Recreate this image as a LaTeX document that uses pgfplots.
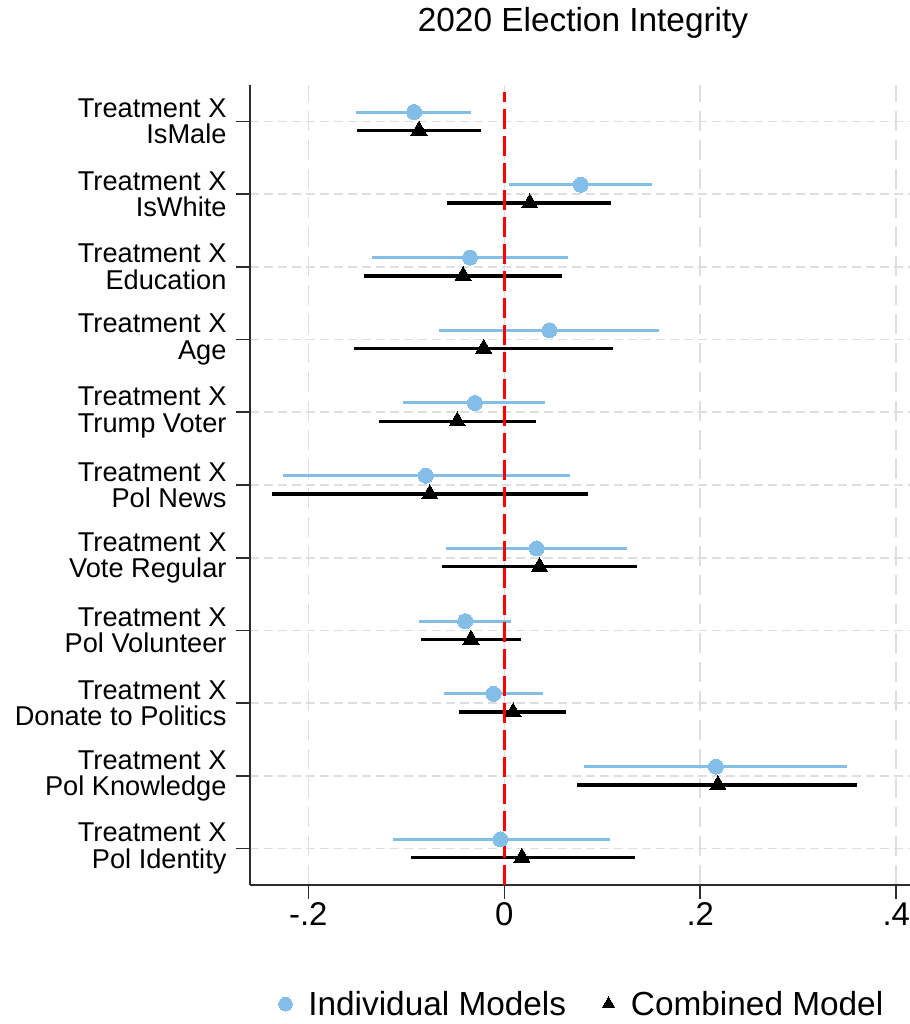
\documentclass[border=0pt]{standalone}
\usepackage{pgfplots}
\pgfplotsset{compat=1.18}
\usepackage{pgfplotstable}
\usepackage{fontspec}
\setmainfont{Liberation Sans}
\definecolor{cblue}{RGB}{130,190,232}
\definecolor{gridc}{RGB}{222,222,222}
\definecolor{axc}{RGB}{45,45,45}

% row 1 = top
\pgfplotstableread{
row x lo hi
1 -0.092 -0.151 -0.034
2 0.078 0.005 0.151
3 -0.035 -0.135 0.065
4 0.046 -0.067 0.158
5 -0.030 -0.103 0.042
6 -0.080 -0.226 0.067
7 0.033 -0.059 0.125
8 -0.040 -0.087 0.007
9 -0.011 -0.062 0.040
10 0.216 0.081 0.350
11 -0.004 -0.114 0.108
}\indiv

\pgfplotstableread{
row x lo hi
1 -0.087 -0.150 -0.024
2 0.026 -0.058 0.109
3 -0.042 -0.143 0.059
4 -0.021 -0.153 0.111
5 -0.048 -0.128 0.032
6 -0.076 -0.237 0.085
7 0.036 -0.064 0.135
8 -0.034 -0.085 0.017
9 0.009 -0.046 0.063
10 0.218 0.074 0.360
11 0.018 -0.095 0.133
}\comb

\begin{document}
\begin{tikzpicture}
\path[use as bounding box] (0,0) rectangle (910bp,1024bp);
\begin{axis}[
  at={(250bp,139bp)}, anchor=south west,
  scale only axis, width=660bp, height=800bp,
  xmin=-0.2595, xmax=0.414, ymin=0.5, ymax=11.5,
  axis x line*=bottom, axis y line*=left,
  axis line style={-, draw=axc, line width=1.6bp},
  xtick={-0.2,0,0.2,0.4}, xticklabels={-.2,0,.2,.4},
  ytick={1,2,3,4,5,6,7,8,9,10,11},
  yticklabels={{Treatment X\\Pol Identity},{Treatment X\\Pol Knowledge},{Treatment X\\Donate to Politics},{Treatment X\\Pol Volunteer},{Treatment X\\Vote Regular},{Treatment X\\Pol News},{Treatment X\\Trump Voter},{Treatment X\\Age},{Treatment X\\Education},{Treatment X\\IsWhite},{Treatment X\\IsMale}},
  tick align=outside, major tick length=14bp,
  tick style={draw=axc, line width=1.6bp},
  xmajorgrids, ymajorgrids,
  x grid style={draw=gridc, line width=1.6bp, dash pattern=on 20bp off 9bp},
  y grid style={draw=gridc, line width=1.6bp, dash pattern=on 9bp off 5bp},
  yticklabel style={font=\fontsize{27.3}{26.5}\selectfont, align=right, xshift=-6bp},
  xticklabel style={font=\fontsize{33}{33}\selectfont},
  title={2020 Election Integrity},
  title style={font=\fontsize{33.5}{33.5}\selectfont, at={(0.5,1)}, anchor=base, yshift=48bp, xshift=3bp},
  legend style={draw=none, fill=none, at={(0.503,-0.149)}, anchor=center,
    font=\fontsize{33.5}{33.5}\selectfont,
    /tikz/every odd column/.append style={column sep=14bp},
    /tikz/every even column/.append style={column sep=34bp}},
  legend columns=2, legend cell align=left,
]
% confidence intervals
\addplot[forget plot, only marks, mark=none,
  error bars/.cd, x dir=both, x explicit, error mark=none,
  error bar style={draw=cblue, solid, line width=3bp}]
  table[x=x, y expr=12-\thisrow{row}+0.128,
        x error plus expr=\thisrow{hi}-\thisrow{x},
        x error minus expr=\thisrow{x}-\thisrow{lo}] {\indiv};
\addplot[forget plot, only marks, mark=none,
  error bars/.cd, x dir=both, x explicit, error mark=none,
  error bar style={draw=black, solid, line width=3.4bp}]
  table[x=x, y expr=12-\thisrow{row}-0.124,
        x error plus expr=\thisrow{hi}-\thisrow{x},
        x error minus expr=\thisrow{x}-\thisrow{lo}] {\comb};
% zero line
\addplot[forget plot, draw=red, line width=2.6bp, dash pattern=on 20bp off 7bp]
  coordinates {(0,0.5) (0,11.4)};
% point estimates
\addplot[only marks, mark=*, mark size=7.5bp, draw=cblue, fill=cblue,
  mark options={draw=cblue, fill=cblue, line width=0pt},
  legend image post style={mark size=6.8bp}]
  table[x=x, y expr=12-\thisrow{row}+0.128] {\indiv};
\addlegendentry{Individual Models}
\addplot[only marks, mark=triangle*, mark size=9.3bp, draw=black, fill=black,
  mark options={draw=black, fill=black, line width=0pt},
  legend image post style={mark size=7.4bp}]
  table[x=x, y expr=12-\thisrow{row}-0.124] {\comb};
\addlegendentry{Combined Model}
\end{axis}
\end{tikzpicture}
\end{document}
